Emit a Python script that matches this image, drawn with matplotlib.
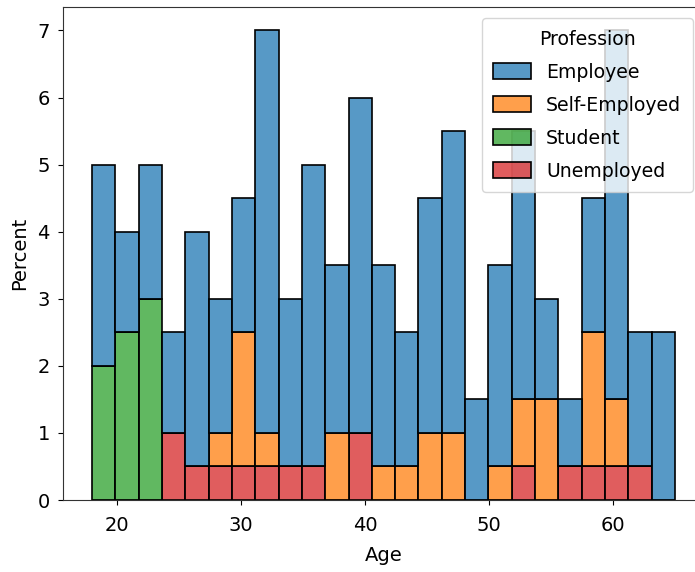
import numpy as np
import pandas as pd
import matplotlib
matplotlib.use("Agg")
import matplotlib.pyplot as plt
import seaborn as sns

# Age bins (25 equal-width bins spanning 18..65)
age_min, age_max, n_bins = 18, 65, 25

professions = ["Employee", "Self-Employed", "Student", "Unemployed"]

# Percent of respondents in each age bin, per profession
employee = [3, 1.5, 2, 1.5, 3.5, 2, 2, 6, 2.5, 4.5, 2.5, 5, 3,
            2, 3.5, 4.5, 1.5, 3, 4, 1.5, 1, 2, 5.5, 2, 2.5]
self_employed = [0, 0, 0, 0, 0, 0.5, 2, 0.5, 0, 0, 1, 0, 0.5,
                 0.5, 1, 1, 0, 0.5, 1, 1.5, 0, 2, 1, 0, 0]
student = [2, 2.5, 3, 0, 0, 0, 0, 0, 0, 0, 0, 0, 0,
           0, 0, 0, 0, 0, 0, 0, 0, 0, 0, 0, 0]
unemployed = [0, 0, 0, 1, 0.5, 0.5, 0.5, 0.5, 0.5, 0.5, 0, 1, 0,
              0, 0, 0, 0, 0, 0.5, 0, 0.5, 0.5, 0.5, 0.5, 0]

edges = np.linspace(age_min, age_max, n_bins + 1)
centers = (edges[:-1] + edges[1:]) / 2

rows = []
for name, vals in zip(professions, [employee, self_employed, student, unemployed]):
    for c, v in zip(centers, vals):
        if v > 0:
            rows.append({"Age": c, "Profession": name, "w": v})
df = pd.DataFrame(rows)

fs = 14
plt.rcParams["font.family"] = ["DejaVu Sans"]
plt.rcParams["font.size"] = fs
plt.rcParams["xtick.major.pad"] = 8
plt.rcParams["ytick.major.pad"] = 6
plt.rcParams["axes.edgecolor"] = "#333333"

fig = plt.figure(figsize=(6.95, 5.72), dpi=100)
ax = fig.add_axes([63 / 695, 72 / 572, 641 / 695, 493 / 572])

sns.histplot(data=df, x="Age", hue="Profession", weights="w",
             hue_order=professions, bins=n_bins, binrange=(age_min, age_max),
             stat="percent", multiple="stack", ax=ax,
             edgecolor="black", linewidth=1.2)

ax.set_xticks([20, 30, 40, 50, 60])
ax.set_yticks(range(0, 8))
ax.set_xlabel("Age", labelpad=8)
ax.set_ylabel("Percent", labelpad=6)

# Rebuild the legend with the same handles, a little more spacious
old = ax.get_legend()
handles = old.legend_handles
labels = [t.get_text() for t in old.get_texts()]
old.remove()
lfs = 13.6
ax.legend(handles, labels, title="Profession", loc="upper right",
          labelspacing=0.74, handleheight=0.9, handlelength=2.0,
          handletextpad=0.8, borderpad=0.6, borderaxespad=0.6,
          title_fontsize=lfs, fontsize=lfs)

fig.savefig("out.png", dpi=100)
